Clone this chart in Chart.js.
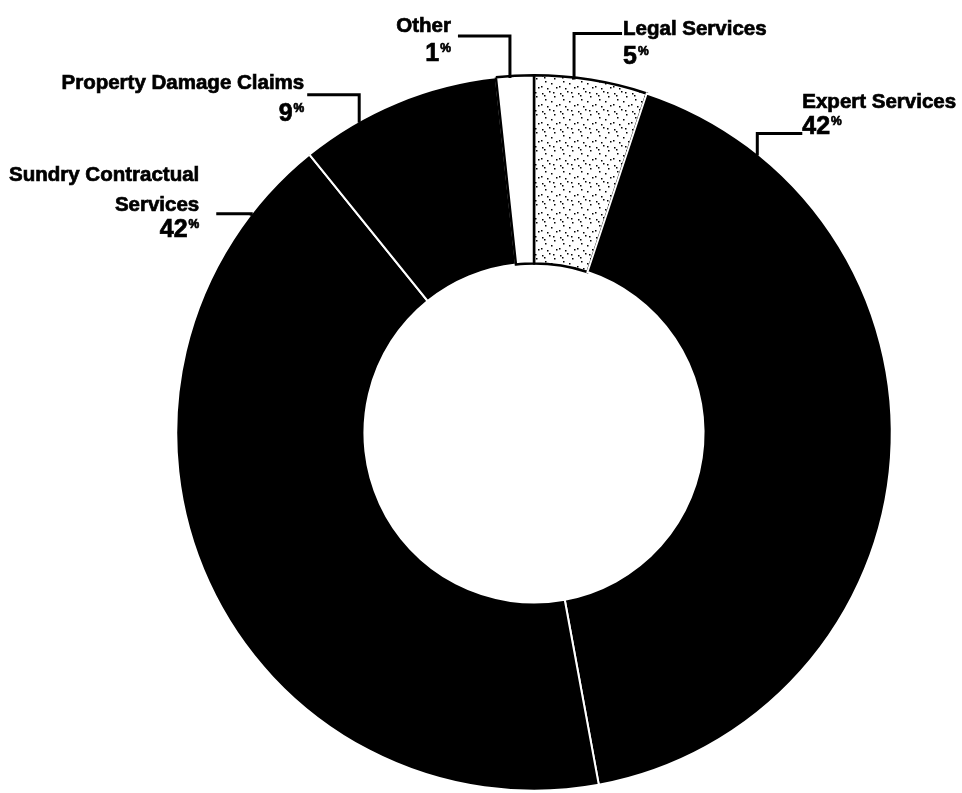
<!DOCTYPE html>
<html>
<head>
<meta charset="utf-8">
<script src="https://cdn.jsdelivr.net/npm/chart.js@4.4.0/dist/chart.umd.min.js"></script>
<style>
html, body { margin: 0; padding: 0; background: #fff; }
#wrap { width: 962px; height: 793px; }
</style>
</head>
<body>
<div id="wrap"><canvas id="chartUI"></canvas></div>
<script>
// podaci (clockwise from top)
var categories = ['Legal Services', 'Expert Services', 'Sundry Contractual Services', 'Property Damage Claims', 'Other'];
var shares = [5.1, 42.0, 42.1, 9.1, 1.7];
var pctLabels = ['5', '42', '42', '9', '1'];
var nameLines = [['Legal Services'], ['Expert Services'], ['Sundry Contractual', 'Services'], ['Property Damage Claims'], ['Other']];

// leader lines: t = where on the slice edge, up = vertical leg, side = horizontal leg
var leaders = [
	{t: 0.35, up: -44, side: 48, align: 'left', tx: 1, ty: [2], py: 31},
	{t: 0.134, up: -20, side: 45, align: 'left', tx: 0, ty: [-25], py: 1},
	{t: 0.912, up: 0, side: -35, align: 'right', tx: -17, ty: [-33, -3], py: 23},
	{t: 0.294, up: -26, side: -52, align: 'right', tx: -3, ty: [-6], py: 26},
	{t: 0.37, up: -40, side: -52, align: 'right', tx: -7, ty: [-4], py: 25}
];

var FONT = '"Liberation Sans", Arial, Helvetica, sans-serif';

// stipple fill for Legal Services
var makeStipple = function() {
	var c = document.createElement('canvas');
	c.width = 18; c.height = 18;
	var g = c.getContext('2d');
	g.fillStyle = '#fff';
	g.fillRect(0, 0, 18, 18);
	g.fillStyle = '#000';
	var dots = [[2,3],[9,1],[14,6],[5,9],[11,11],[1,14],[16,15],[7,16],[13,2],[4,5]];
	dots.forEach(function(d) { g.fillRect(d[0], d[1], 1.5, 1.5); });
	return g.createPattern(c, 'repeat');
};

// heavier text, the scan is very bold
var boldText = function(ctx, s, x, y) {
	ctx.fillText(s, x, y);
	ctx.strokeText(s, x, y);
};

var drawPct = function(ctx, num, x, y, align) {
	ctx.font = 'bold 25px ' + FONT;
	var w1 = ctx.measureText(num).width;
	ctx.font = 'bold 12px ' + FONT;
	var w2 = ctx.measureText('%').width;
	var x0 = align === 'right' ? x - w1 - w2 - 1 : x;
	ctx.textAlign = 'left';
	ctx.font = 'bold 25px ' + FONT;
	boldText(ctx, num, x0, y);
	ctx.font = 'bold 12px ' + FONT;
	boldText(ctx, '%', x0 + w1 + 1, y - 9);
};

var leaderPlugin = {
	id: 'leaders',
	afterDraw: function(chart) {
		var ctx = chart.ctx;
		var meta = chart.getDatasetMeta(0);
		ctx.save();
		ctx.strokeStyle = '#000';
		ctx.fillStyle = '#000';
		ctx.textBaseline = 'alphabetic';
		meta.data.forEach(function(arc, i) {
			var L = leaders[i];
			var a = arc.startAngle + L.t * (arc.endAngle - arc.startAngle);
			var ax = arc.x + arc.outerRadius * Math.cos(a);
			var ay = arc.y + arc.outerRadius * Math.sin(a);
			var ex = ax + L.side, ey = ay + L.up;
			ctx.lineWidth = 3;
			ctx.beginPath();
			ctx.moveTo(ax, ay + 2);
			ctx.lineTo(ax, ey);
			ctx.lineTo(ex, ey);
			ctx.stroke();
			ctx.lineWidth = 0.7;
			ctx.font = 'bold 20.5px ' + FONT;
			ctx.textAlign = L.align;
			nameLines[i].forEach(function(line, k) {
				boldText(ctx, line, ex + L.tx, ey + L.ty[k]);
			});
			drawPct(ctx, pctLabels[i], ex + L.tx, ey + L.py, L.align);
		});
		ctx.restore();
	}
};

var ctx = document.getElementById('chartUI');
var donut = new Chart(ctx, {
	type: 'doughnut',
	data: {
		labels: categories,
		datasets: [{
			data: shares,
			backgroundColor: [makeStipple(), '#000', '#000', '#000', '#fff'],
			borderColor: ['#000', '#fff', '#fff', '#fff', '#000'],
			borderWidth: [2.5, 2, 2, 2, 2.5],
			borderJoinStyle: 'miter'
		}]
	},
	options: {
		responsive: true,
		maintainAspectRatio: false,
		animation: false,
		events: [],
		cutout: '47.4%',
		layout: { padding: { left: 175, right: 69, top: 74, bottom: 1 } },
		plugins: { legend: { display: false }, tooltip: { enabled: false } }
	},
	plugins: [leaderPlugin]
});
</script>
</body>
</html>
